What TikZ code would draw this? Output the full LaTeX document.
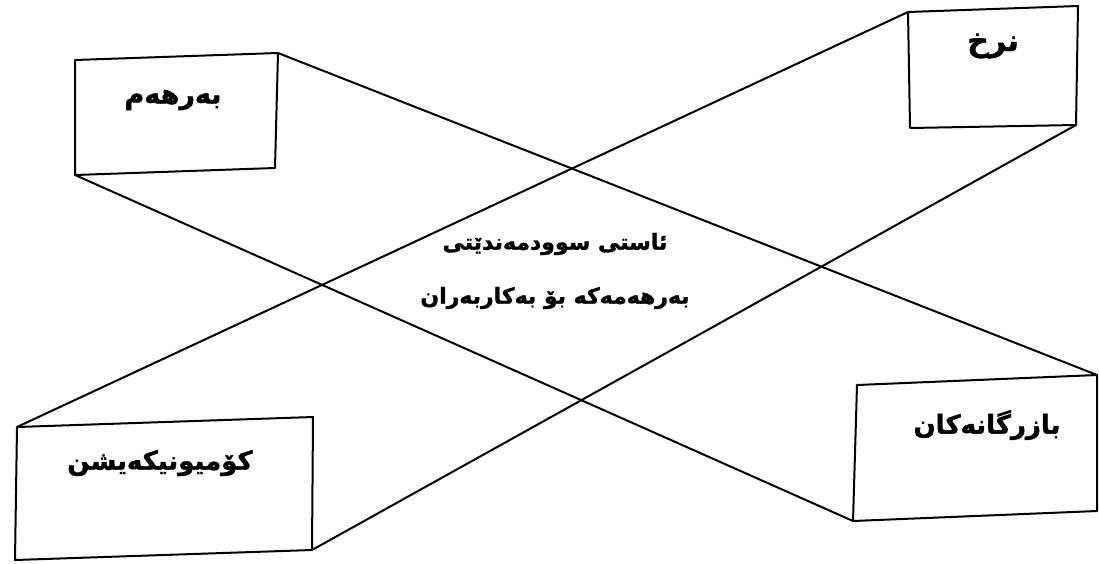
\documentclass[tikz,border=0pt]{standalone}
\usepackage{fontspec}
\newfontfamily\kurdfont[Script=Arabic, BoldFeatures={FakeBold=1.5}]{DejaVu Sans}
\TeXXeTstate=1

\begin{document}
\begin{tikzpicture}[x=1pt, y=-1pt, line width=2pt, line join=round,
    boxlabel/.style={font=\kurdfont\bfseries\fontsize{#1}{30}\selectfont},
    boxlabel/.default=26,
    midlabel/.style={font=\kurdfont\bfseries\fontsize{22}{54}\selectfont, align=center}]

        \useasboundingbox (0,0) rectangle (1099,563);

        % Corners of the four boxes
        \coordinate (ProductNW) at (75,60);
        \coordinate (ProductNE) at (278,53);
        \coordinate (ProductSE) at (275,168);
        \coordinate (ProductSW) at (75,175);

        \coordinate (PriceNW) at (908,12);
        \coordinate (PriceNE) at (1078,6);
        \coordinate (PriceSE) at (1076,125);
        \coordinate (PriceSW) at (910,128);

        \coordinate (CommNW) at (17,427);
        \coordinate (CommNE) at (313,417);
        \coordinate (CommSE) at (312,550);
        \coordinate (CommSW) at (15,560);

        \coordinate (TradeNW) at (857,385);
        \coordinate (TradeNE) at (1097,375);
        \coordinate (TradeSE) at (1097,511);
        \coordinate (TradeSW) at (853,521);

        % Draw the boxes
        \draw (ProductNW) -- (ProductNE) -- (ProductSE) -- (ProductSW) -- cycle;
        \draw (PriceNW) -- (PriceNE) -- (PriceSE) -- (PriceSW) -- cycle;
        \draw (CommNW) -- (CommNE) -- (CommSE) -- (CommSW) -- cycle;
        \draw (TradeNW) -- (TradeNE) -- (TradeSE) -- (TradeSW) -- cycle;

        % The two crossing bands
        \draw (ProductNE) -- (TradeNE);
        \draw (ProductSW) -- (TradeSW);
        \draw (PriceNW) -- (CommNW);
        \draw (PriceSE) -- (CommSE);

        % Labels
        \node[boxlabel=27] (product) at (173,100) {\beginR بەرهەم\endR};
        \node[boxlabel=30] (price) at (993,46) {\beginR نرخ\endR};
        \node[boxlabel] (comm) at (160,463) {\beginR کۆمیونیکەیشن\endR};
        \node[boxlabel] (trade) at (987,425) {\beginR بازرگانەکان\endR};
        \node[midlabel] (benefit) at (555,271)
            {\beginR ئاستی سوودمەندێتی\endR\\ \beginR بەرهەمەکە بۆ بەکاربەران\endR};

\end{tikzpicture}
\end{document}
